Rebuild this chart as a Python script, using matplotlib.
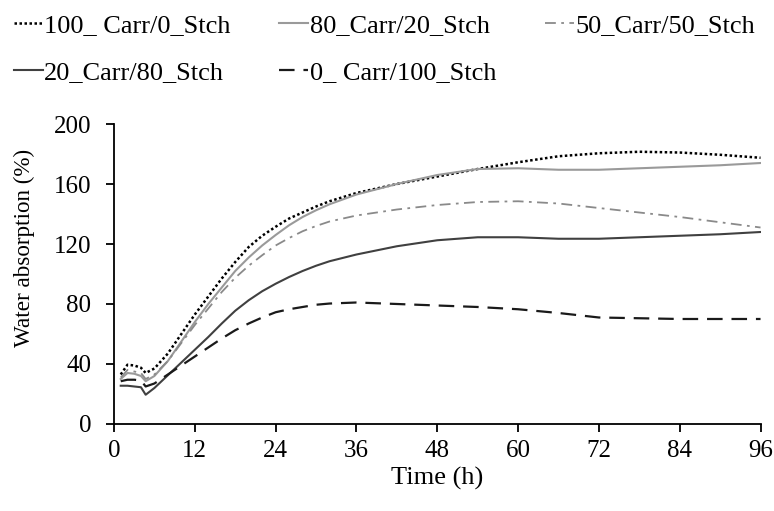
import matplotlib
matplotlib.use("Agg")
import matplotlib.pyplot as plt

plt.rcParams["font.family"] = ["Liberation Serif", "DejaVu Serif"]

time_h = [1, 2, 3, 4, 4.7, 6, 8, 10, 12, 14, 16, 18, 20, 22, 24, 26, 28, 30, 32, 36, 42, 48,
          54, 60, 66, 72, 78, 84, 90, 96]

carr100 = [33, 39.5, 39, 37.5, 34, 37, 47, 60, 73, 85, 97, 108, 118, 125.5, 131.5, 137, 141, 145,
           148.5, 154, 160, 165, 170, 174.5, 178.5, 180.5, 181.5, 181, 179.5, 177.5]
carr80 = [30, 34, 33.5, 32, 28.5, 32, 42, 55, 68, 80, 91, 102, 111, 119, 126, 132.5, 138, 142.5,
          146.5, 153, 160, 166, 170, 170.5, 169.5, 169.5, 170.5, 171.5, 172.5, 174]
carr50 = [31, 36, 35, 34, 30, 33, 42, 54, 66, 77, 88, 97.5, 105.5, 112.5, 119, 124, 128.5, 132,
          135, 139, 143, 146, 148, 148.5, 147, 144, 141, 138, 134.5, 131]
carr20 = [25.5, 25.5, 25, 24.5, 19.5, 24, 32.5, 41, 49.5, 58, 67, 75.5, 82.5, 88.5, 93.5, 98, 102,
          105.5, 108.5, 113, 118.5, 122.5, 124.5, 124.5, 123.5, 123.5, 124.5, 125.5, 126.5, 128]
carr0 = [28.5, 29.5, 29.5, 29, 25, 27, 33, 39, 45, 51, 57, 62.5, 67, 71, 74.5, 76.5, 78, 79.5,
         80.3, 81, 80, 79, 78, 76.5, 74, 71, 70.5, 70, 70, 70]

fig = plt.figure(figsize=(7.74, 5.11), dpi=100)
ax = fig.add_axes([0.1473, 0.1703, 0.8353, 0.587])

l100, = ax.plot(time_h, carr100, color="black", lw=1.8, ls=(0, (1, 1)), label="100_ Carr/0_Stch")
l80, = ax.plot(time_h, carr80, color="#9a9a9a", lw=1.5, ls="-", label="80_Carr/20_Stch")
l50, = ax.plot(time_h, carr50, color="#8a8a8a", lw=1.3, ls=(0, (6, 3, 1.5, 3)), label="50_Carr/50_Stch")
l20, = ax.plot(time_h, carr20, color="#404040", lw=1.5, ls="-", label="20_Carr/80_Stch")
l0, = ax.plot(time_h, carr0, color="#1a1a1a", lw=1.6, ls=(0, (7, 4)), label="0_ Carr/100_Stch")

ax.set_xlim(0, 96)
ax.set_ylim(0, 200)
ax.set_xticks(range(0, 97, 12))
ax.set_yticks(range(0, 201, 40))
ax.spines["top"].set_visible(False)
ax.spines["right"].set_visible(False)
for s in ("left", "bottom"):
    ax.spines[s].set_linewidth(1.3)
ax.tick_params(direction="out", length=5.8, width=1.3, labelsize=18)
ax.tick_params(axis="y", pad=10.5)
ax.tick_params(axis="x", pad=6)
ax.set_xlabel("Time (h)", fontsize=19, labelpad=3)
ax.set_ylabel("Water absorption (%)", fontsize=16.7)
ax.yaxis.set_label_coords(-0.122, 0.587)

# row-major order for a column-filled legend
fig.legend([l100, l20, l80, l0, l50],
           [l.get_label() for l in (l100, l20, l80, l0, l50)],
           ncol=3, loc="upper left", bbox_to_anchor=(-0.003, 1.005), frameon=False,
           fontsize=19, handlelength=1.1, handletextpad=0.05, columnspacing=1.85,
           labelspacing=0.9, borderaxespad=0.2)

fig.savefig("out.png", dpi=100)
